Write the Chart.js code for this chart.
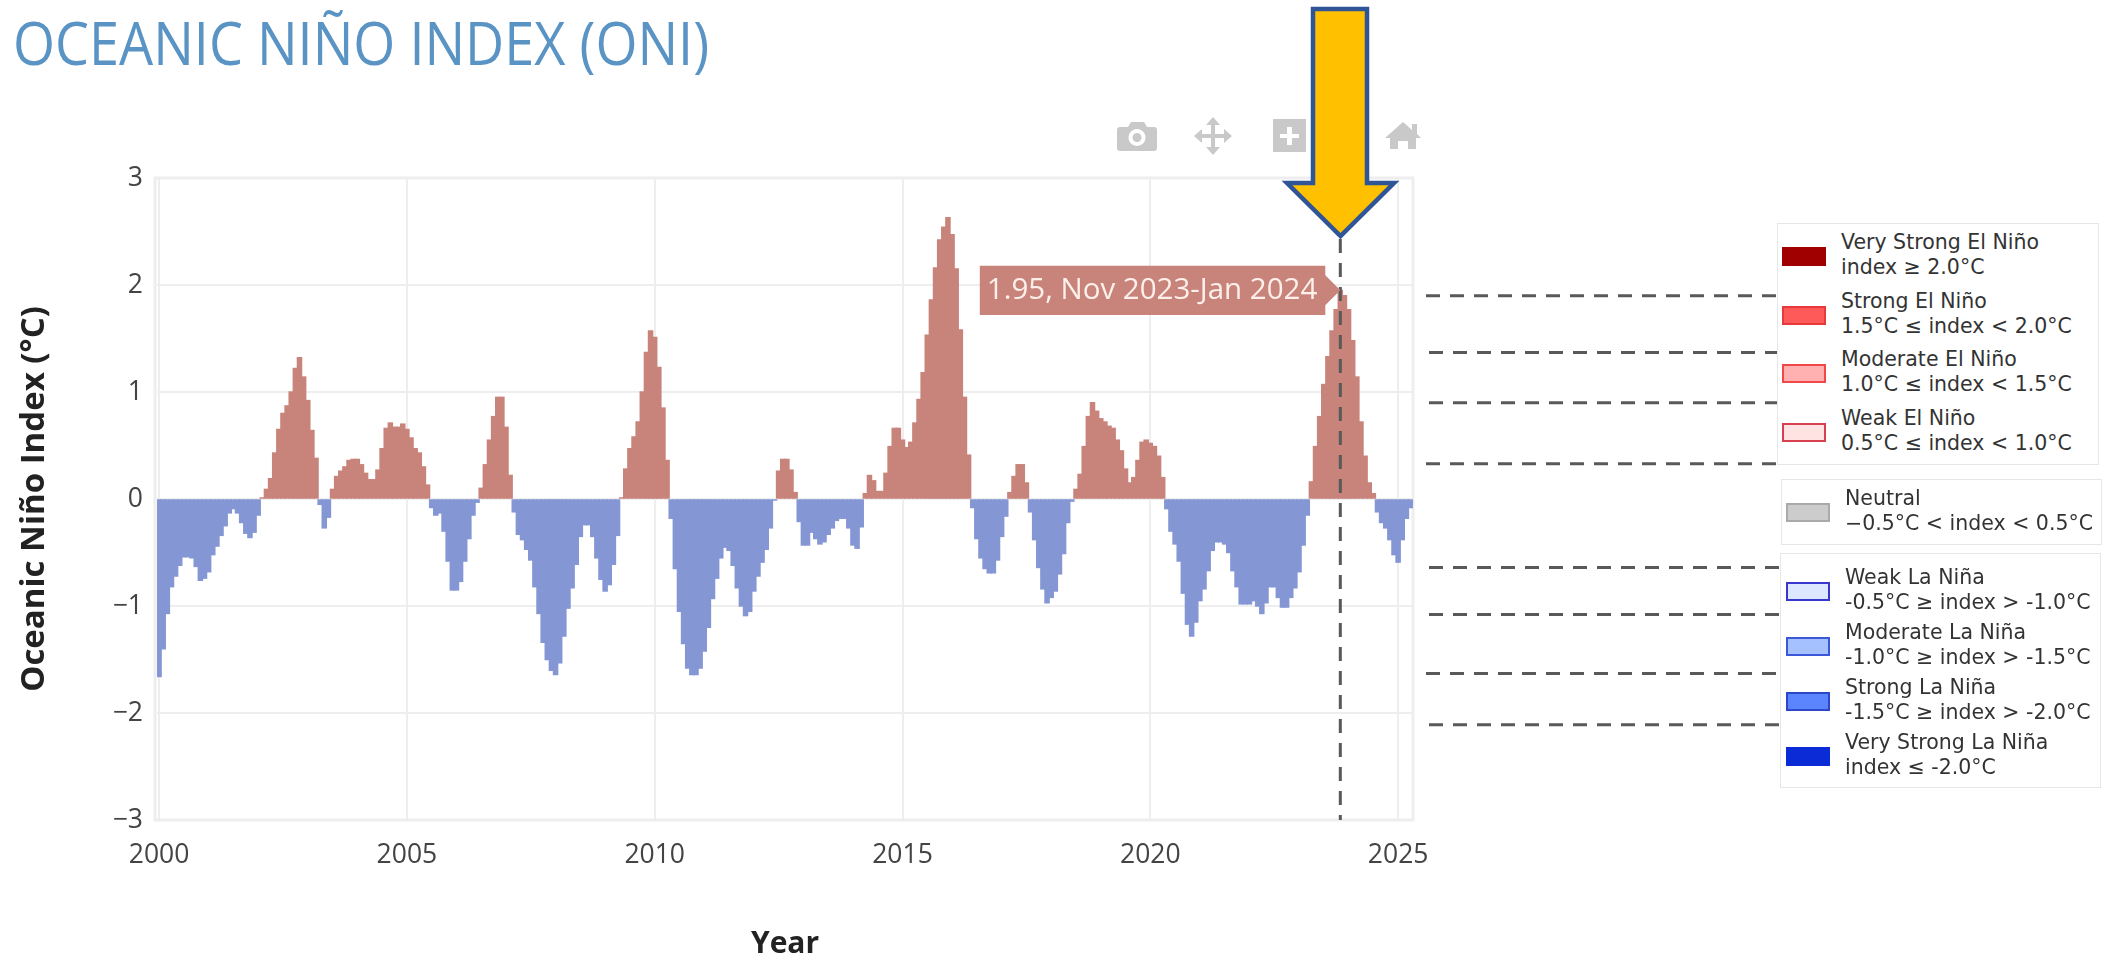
<!DOCTYPE html>
<html>
<head>
<meta charset="utf-8">
<title>Oceanic Niño Index</title>
<script src="https://cdn.jsdelivr.net/npm/chart.js@4/dist/chart.umd.min.js"></script>
<style>
  body { margin: 0; background: #fff; }
  #page { position: relative; width: 2116px; height: 962px; overflow: hidden; }
  #oniChart { position: absolute; left: 0; top: 0; }
  #heading { position: absolute; left: 13px; top: 1px; margin: 0; font: 400 60px "Open Sans", sans-serif; color: #5a94c4; white-space: nowrap; transform-origin: left top; transform: scaleX(0.90); }
  .legend-box { position: absolute; background: #fff; border: 1px solid #e6e6e6; box-sizing: border-box; }
  .swatch { position: absolute; box-sizing: border-box; width: 44px; height: 19px; border-width: 2px; border-style: solid; }
  .legend-text { position: absolute; font: 20.500px/25px "DejaVu Sans", sans-serif; color: #333; white-space: nowrap; }
  svg { position: absolute; left: 0; top: 0; }
</style>
</head>
<body>
<div id="page">
  <canvas id="oniChart" width="2116" height="962"></canvas>
  <h1 id="heading">OCEANIC NIÑO INDEX (ONI)</h1>
  <div id="legend"></div>
  <svg width="2116" height="962" viewBox="0 0 2116 962">
    <g fill="#c9c9c9">
      <!-- camera -->
      <path fill-rule="evenodd" d="M1120 127h8l3-5h13l3 5h7q3 0 3 3v18q0 3-3 3h-34q-3 0-3-3v-18q0-3 3-3zM1137 129a8.500 8.500 0 1 0 .01 0zM1137 133a4.500 4.500 0 1 1-.01 0z"/>
      <!-- move -->
      <path d="M1213 117l7 8h-5v9h9v-5l8 7-8 7v-5h-9v9h5l-7 8-7-8h5v-9h-9v5l-8-7 8-7v5h9v-9h-5z"/>
      <!-- zoom in -->
      <path fill-rule="evenodd" d="M1273 119h33v33h-33zM1287 127v7h-7v4h7v7h5v-7h7v-4h-7v-7z"/>
      <!-- home -->
      <path d="M1403 122l9 8v-6h5v10l4 4h-5v11h-8v-8h-10v8h-8v-11h-5z"/>
    </g>
    <path d="M1313 9H1367V183H1394L1340.500 236L1287 183H1313Z" fill="#ffc000" stroke="#2f5597" stroke-width="4.500"/>
  </svg>
</div>
<script>
// ONI values, one row per year, first value is Jan 2000
const firstYear = 2000;
const oniValues = [
  -1.66, -1.40, -1.07, -0.82, -0.72, -0.62, -0.54, -0.54, -0.55, -0.63, -0.76, -0.74,
  -0.68, -0.52, -0.44, -0.34, -0.25, -0.13, -0.09, -0.13, -0.22, -0.32, -0.36, -0.31,
  -0.15, 0.01, 0.09, 0.19, 0.43, 0.65, 0.80, 0.87, 1.00, 1.22, 1.32, 1.14,
  0.92, 0.64, 0.38, -0.05, -0.27, -0.17, 0.09, 0.21, 0.26, 0.30, 0.36, 0.37,
  0.37, 0.32, 0.24, 0.18, 0.18, 0.27, 0.47, 0.66, 0.71, 0.67, 0.67, 0.70,
  0.65, 0.57, 0.47, 0.43, 0.30, 0.13, -0.08, -0.15, -0.13, -0.30, -0.58, -0.85,
  -0.85, -0.77, -0.58, -0.37, -0.15, -0.03, 0.10, 0.32, 0.55, 0.77, 0.95, 0.95,
  0.67, 0.22, -0.12, -0.33, -0.38, -0.47, -0.57, -0.82, -1.07, -1.34, -1.50, -1.60,
  -1.64, -1.53, -1.28, -1.02, -0.83, -0.61, -0.35, -0.24, -0.24, -0.35, -0.55, -0.75,
  -0.86, -0.80, -0.61, -0.34, 0.01, 0.28, 0.47, 0.58, 0.72, 1.00, 1.37, 1.57,
  1.51, 1.23, 0.85, 0.36, -0.18, -0.65, -1.05, -1.35, -1.58, -1.64, -1.64, -1.58,
  -1.42, -1.20, -0.93, -0.74, -0.55, -0.45, -0.48, -0.62, -0.83, -1.00, -1.09, -1.05,
  -0.86, -0.72, -0.59, -0.47, -0.27, -0.01, 0.26, 0.37, 0.37, 0.27, 0.06, -0.21,
  -0.43, -0.43, -0.31, -0.37, -0.42, -0.40, -0.33, -0.27, -0.20, -0.18, -0.18, -0.27,
  -0.43, -0.46, -0.26, 0.05, 0.22, 0.17, 0.07, 0.07, 0.24, 0.49, 0.66, 0.66,
  0.55, 0.48, 0.53, 0.71, 0.93, 1.18, 1.53, 1.86, 2.16, 2.42, 2.54, 2.63,
  2.47, 2.15, 1.58, 0.95, 0.41, -0.08, -0.37, -0.55, -0.65, -0.69, -0.69, -0.57,
  -0.35, -0.16, 0.06, 0.21, 0.32, 0.32, 0.15, -0.12, -0.38, -0.64, -0.84, -0.97,
  -0.92, -0.86, -0.70, -0.51, -0.22, -0.02, 0.09, 0.23, 0.49, 0.77, 0.90, 0.82,
  0.75, 0.72, 0.68, 0.66, 0.55, 0.45, 0.28, 0.15, 0.20, 0.36, 0.53, 0.55,
  0.52, 0.49, 0.40, 0.20, -0.09, -0.30, -0.42, -0.58, -0.88, -1.17, -1.28, -1.15,
  -0.95, -0.84, -0.67, -0.48, -0.40, -0.40, -0.42, -0.50, -0.67, -0.82, -0.98, -0.98,
  -0.98, -0.95, -1.00, -1.07, -0.97, -0.82, -0.82, -0.92, -1.01, -1.01, -0.92, -0.83,
  -0.68, -0.43, -0.15, 0.16, 0.49, 0.77, 1.07, 1.33, 1.57, 1.77, 1.95, 1.90,
  1.77, 1.48, 1.14, 0.72, 0.40, 0.15, 0.05, -0.12, -0.22, -0.27, -0.38, -0.52,
  -0.59, -0.38, -0.18, -0.08
];

// the month called out on the chart
const highlightIndex = 286;
const highlightLabel = "1.95, Nov 2023-Jan 2024";

// dashed guides added on top of the chart, on the index scale
const guideLevels = [1.90, 1.37, 0.90, 0.33, -0.64, -1.08, -1.63, -2.11];
const markerTop = 2.43;

const legendNames = [
  "Very Strong El Niño", "Strong El Niño", "Moderate El Niño", "Weak El Niño", "Neutral",
  "Weak La Niña", "Moderate La Niña", "Strong La Niña", "Very Strong La Niña"
];
const legendRanges = [
  "index ≥ 2.0°C", "1.5°C ≤ index < 2.0°C", "1.0°C ≤ index < 1.5°C", "0.5°C ≤ index < 1.0°C", "−0.5°C < index < 0.5°C",
  "-0.5°C ≥ index > -1.0°C", "-1.0°C ≥ index > -1.5°C", "-1.5°C ≥ index > -2.0°C", "index ≤ -2.0°C"
];

const warmColor = "#c8847b";
const coolColor = "#8496d4";

// legend is plain html, the image has it pasted in three pieces
const legendFill = ["#a00000", "#ff5a5a", "#ffb0b0", "#ffe2e2", "#cccccc", "#dde7ff", "#a6c1ff", "#5a85ff", "#0a2bd6"];
const legendLine = ["#a00000", "#e83a3a", "#f04848", "#d8404f", "#aaaaaa", "#3838d0", "#3a58d8", "#2a48c8", "#0a2bd6"];
const legendRowY = [256, 315, 373, 432, 512, 591, 646, 701, 756];
const legendBoxes = [[1777, 223, 322, 242], [1781, 479, 321, 66], [1780, 553, 321, 235]];

const legendEl = document.getElementById("legend");
legendBoxes.forEach(b => {
  const box = document.createElement("div");
  box.className = "legend-box";
  box.style.cssText = `left:${b[0]}px;top:${b[1]}px;width:${b[2]}px;height:${b[3]}px`;
  legendEl.appendChild(box);
});
legendNames.forEach((name, i) => {
  const left = i < 4 ? 1782 : 1786;
  const swatch = document.createElement("div");
  swatch.className = "swatch";
  swatch.style.cssText = `left:${left}px;top:${legendRowY[i] - 9}px;background:${legendFill[i]};border-color:${legendLine[i]}`;
  legendEl.appendChild(swatch);
  const text = document.createElement("div");
  text.className = "legend-text";
  text.style.cssText = `left:${left + 59}px;top:${legendRowY[i] - 26}px`;
  text.innerHTML = name + "<br>" + legendRanges[i].replace(/</g, "&lt;").replace(/>/g, "&gt;");
  legendEl.appendChild(text);
});

// frame round the plot and the dashed lines
const overlayPlugin = {
  id: "overlay",
  beforeDatasetsDraw(chart) {
    const { ctx, chartArea: a } = chart;
    ctx.save();
    ctx.strokeStyle = "#eeeeee";
    ctx.lineWidth = 3;
    ctx.strokeRect(a.left - 2, a.top, a.right - a.left + 2, a.bottom - a.top);
    ctx.restore();
  },
  afterDatasetsDraw(chart) {
    const { ctx, scales } = chart;
    ctx.save();
    ctx.strokeStyle = "#595959";
    ctx.lineWidth = 3;
    ctx.setLineDash([14, 10]);
    const xMark = scales.x.getPixelForValue(firstYear + highlightIndex / 12);
    ctx.beginPath();
    ctx.moveTo(xMark, scales.y.getPixelForValue(markerTop));
    ctx.lineTo(xMark, scales.y.getPixelForValue(-3));
    guideLevels.forEach((level, i) => {
      const y = scales.y.getPixelForValue(level);
      ctx.moveTo(i % 3 === 0 ? 1426 : 1429, y);
      ctx.lineTo(1780, y);
    });
    ctx.stroke();
    ctx.restore();
  }
};

const tickFont = { family: "'Open Sans', sans-serif", size: 26.5 };

const chart = new Chart(document.getElementById("oniChart"), {
  type: "bar",
  data: {
    datasets: [{
      data: oniValues.map((v, i) => ({ x: firstYear + i / 12, y: v })),
      backgroundColor: oniValues.map(v => v >= 0 ? warmColor : coolColor),
      borderWidth: 0,
      inflateAmount: 0.7,
      barPercentage: 1,
      categoryPercentage: 1
    }]
  },
  options: {
    responsive: false,
    animation: false,
    events: [],
    layout: { padding: { left: 0, top: 178, right: 703, bottom: 0 } },
    plugins: {
      legend: { display: false },
      title: { display: false },
      tooltip: {
        animation: false,
        xAlign: "right",
        yAlign: "center",
        backgroundColor: warmColor,
        bodyColor: "#fdf0ea",
        bodyFont: { family: "'Open Sans', sans-serif", size: 29.5 },
        cornerRadius: 0,
        caretSize: 15,
        caretPadding: 0,
        padding: { left: 7, right: 8, top: 7, bottom: 7 },
        displayColors: false,
        callbacks: { title: () => "", label: () => highlightLabel }
      }
    },
    scales: {
      x: {
        type: "linear",
        min: firstYear - 1 / 24,
        max: 2025.3,
        offset: false,
        grid: { color: "#eeeeee", lineWidth: 2, drawTicks: false, offset: false },
        border: { display: false },
        ticks: {
          stepSize: 5,
          includeBounds: false,
          autoSkip: false,
          maxRotation: 0,
          padding: 20,
          color: "#444444",
          font: tickFont,
          callback: v => String(v)
        },
        title: {
          display: true,
          text: "Year",
          color: "#222222",
          font: { family: "'Open Sans', sans-serif", size: 30, weight: "bold" },
          padding: { top: 38, bottom: 0 }
        },
        afterFit: s => { s.height = 142; }
      },
      y: {
        min: -3,
        max: 3,
        grid: { color: "#eeeeee", lineWidth: 2, drawTicks: false },
        border: { display: false },
        ticks: {
          stepSize: 1,
          padding: 14,
          color: "#444444",
          font: tickFont,
          callback: v => String(v).replace("-", "\u2212")
        },
        title: {
          display: true,
          text: "Oceanic Niño Index (°C)",
          color: "#222222",
          font: { family: "'Open Sans', sans-serif", size: 33, weight: "bold" },
          padding: { top: 15, bottom: 0 }
        },
        afterFit: s => { s.width = 157; }
      }
    }
  },
  plugins: [overlayPlugin]
});

chart.tooltip.setActiveElements([{ datasetIndex: 0, index: highlightIndex }], { x: 0, y: 0 });
chart.draw();
</script>
</body>
</html>
